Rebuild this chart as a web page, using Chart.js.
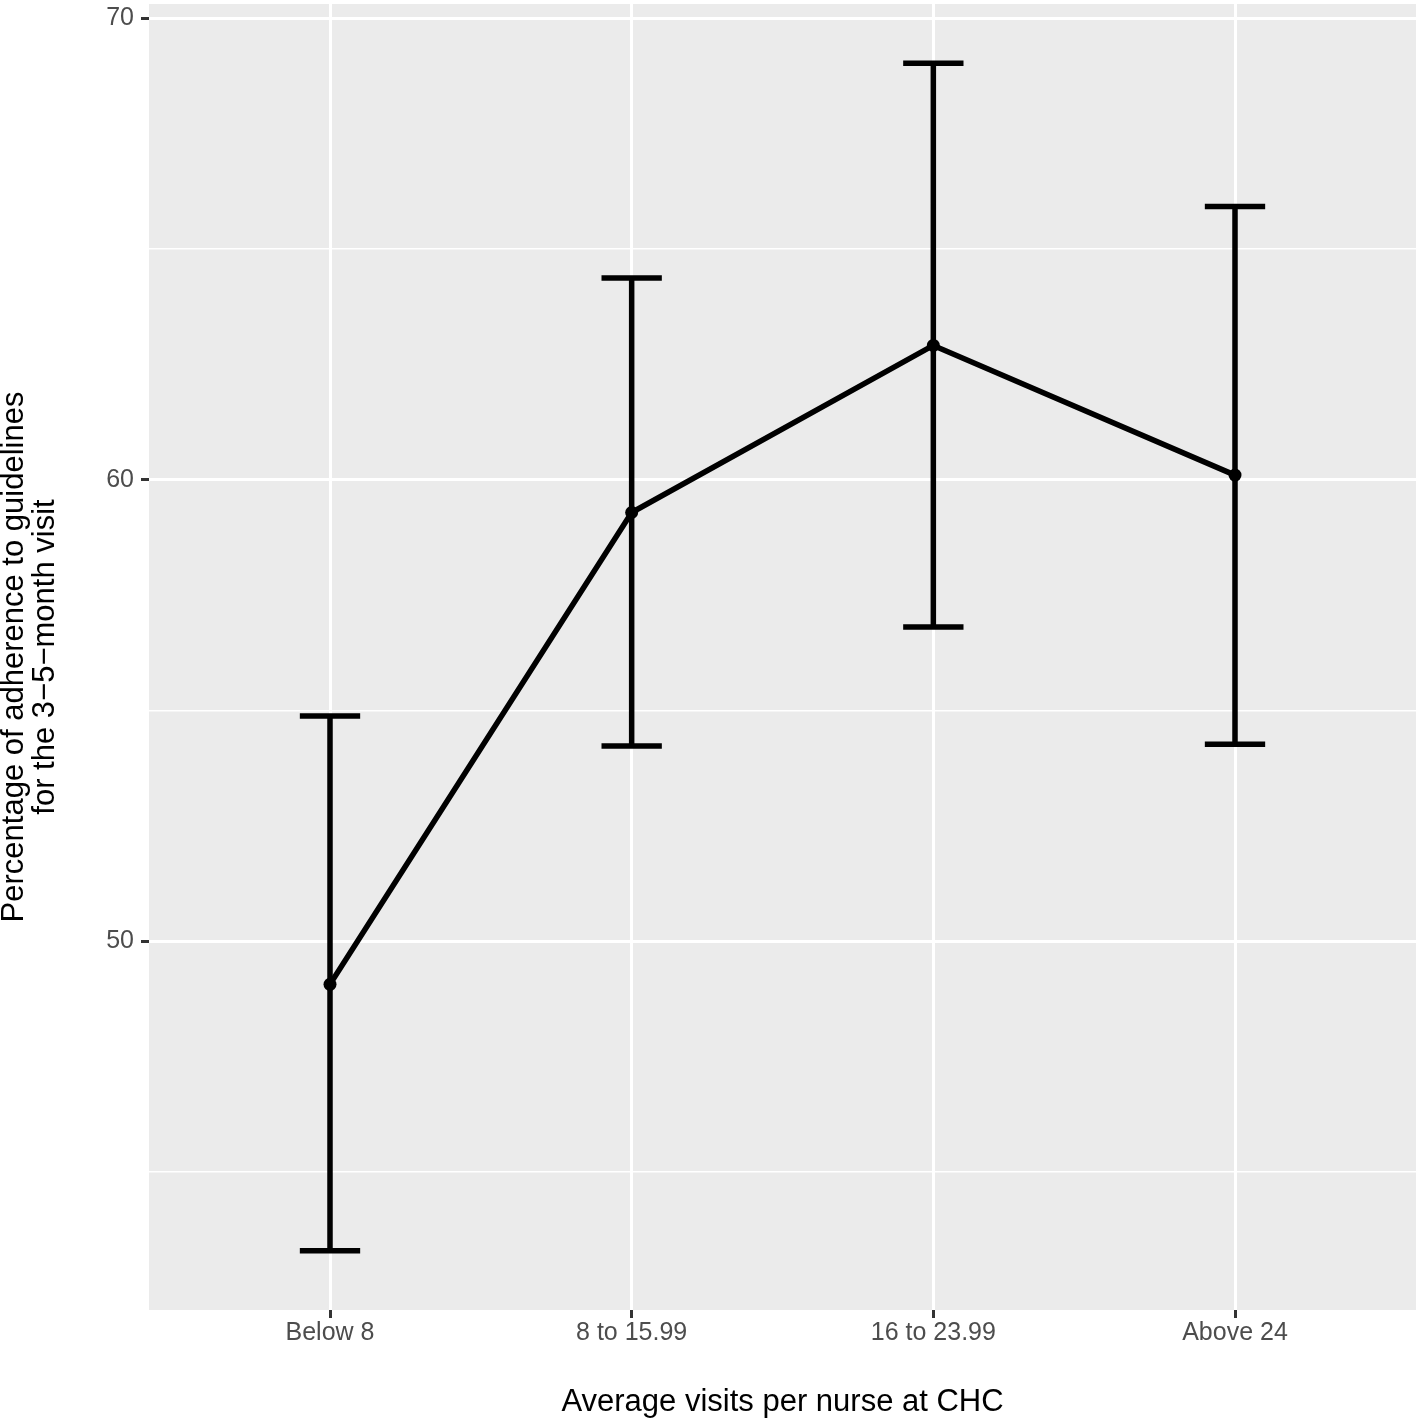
<!DOCTYPE html>
<html><head><meta charset="utf-8">
<script src="https://cdn.jsdelivr.net/npm/chart.js@4/dist/chart.umd.min.js"></script>
<style>html,body{margin:0;padding:0;background:#fff;} #wrap{width:1416px;height:1420px;position:relative;}</style>
</head><body><div id="wrap"><canvas id="c"></canvas></div>
<script>
const categories = ['Below 8', '8 to 15.99', '16 to 23.99', 'Above 24'];
const meanValues = [49.07, 59.29, 62.91, 60.10];
const lowerValues = [43.30, 54.23, 56.81, 54.27];
const upperValues = [54.88, 64.37, 69.02, 65.92];
const majorYTicks = [50, 60, 70];
const minorYTicks = [45, 55, 65];
const xTitle = 'Average visits per nurse at CHC';
const yTitle = ['Percentage of adherence to guidelines', 'for the 3\u22125\u2212month visit'];

const FAMILY = '"Liberation Sans", Arial, Helvetica, sans-serif';
const capHalf = 0.1;

const lo = Math.min(...lowerValues), hi = Math.max(...upperValues);
const expand = 0.05 * (hi - lo);

const meanData = categories.map((c, i) => ({x: i + 1, y: meanValues[i]}));
const errData = [];
categories.forEach((c, i) => {
  const x = i + 1;
  errData.push({x, y: lowerValues[i]}, {x, y: upperValues[i]}, {x, y: null});
  errData.push({x: x - capHalf, y: upperValues[i]}, {x: x + capHalf, y: upperValues[i]}, {x, y: null});
  errData.push({x: x - capHalf, y: lowerValues[i]}, {x: x + capHalf, y: lowerValues[i]}, {x, y: null});
});

const panelBg = {
  id: 'panelBg',
  beforeDraw(chart) {
    const {ctx, chartArea: a} = chart;
    ctx.save();
    ctx.fillStyle = '#EBEBEB';
    ctx.fillRect(a.left, a.top, a.right - a.left, a.bottom - a.top);
    ctx.restore();
  }
};

new Chart(document.getElementById('c'), {
  type: 'line',
  data: {
    datasets: [
      {
        data: errData, borderColor: '#000', borderWidth: 5.5, pointRadius: 0,
        spanGaps: false, borderCapStyle: 'butt', tension: 0, fill: false
      },
      {
        data: meanData, borderColor: '#000', borderWidth: 5.5, pointRadius: 6.5,
        pointBackgroundColor: '#000', pointBorderWidth: 0, borderJoinStyle: 'round',
        borderCapStyle: 'butt', tension: 0, fill: false
      }
    ]
  },
  plugins: [panelBg],
  options: {
    responsive: true, maintainAspectRatio: false, animation: false, devicePixelRatio: 1,
    events: [],
    layout: {autoPadding: false, padding: {top: 4, right: 0, bottom: 0, left: 0}},
    plugins: {legend: {display: false}, tooltip: {enabled: false}},
    scales: {
      x: {
        type: 'linear', min: 0.4, max: 4.6,
        afterBuildTicks: s => { s.ticks = categories.map((c, i) => ({value: i + 1})); },
        afterFit: s => { s.height = 110; s.paddingLeft = 0; s.paddingRight = 0; s.paddingTop = 0; s.paddingBottom = 0; },
        ticks: {
          callback: (v, i) => categories[i], color: '#4D4D4D',
          font: {family: FAMILY, size: 25}, padding: 0, maxRotation: 0, autoSkip: false
        },
        grid: {color: '#FFFFFF', lineWidth: 3, tickColor: '#333333', tickWidth: 3, tickLength: 8},
        border: {display: false},
        title: {
          display: true, text: xTitle, color: '#000',
          font: {family: FAMILY, size: 31, lineHeight: 1.1}, padding: {top: 0, bottom: 0}
        }
      },
      y: {
        type: 'linear', min: lo - expand, max: hi + expand,
        afterBuildTicks: s => {
          s.ticks = [...minorYTicks, ...majorYTicks].sort((a, b) => a - b).map(v => ({value: v}));
        },
        afterFit: s => { s.width = 149; s.paddingLeft = 0; s.paddingRight = 0; s.paddingTop = 0; s.paddingBottom = 0; },
        ticks: {
          callback: v => majorYTicks.includes(v) ? String(v) : '', color: '#4D4D4D',
          font: {family: FAMILY, size: 25}, padding: 7, autoSkip: false
        },
        grid: {
          color: '#FFFFFF',
          lineWidth: c => (c.tick && majorYTicks.includes(c.tick.value)) ? 3 : 1.5,
          tickColor: c => (c.tick && majorYTicks.includes(c.tick.value)) ? '#333333' : 'rgba(0,0,0,0)',
          tickWidth: 3, tickLength: 8
        },
        border: {display: false},
        title: {
          display: true, text: yTitle, color: '#000',
          font: {family: FAMILY, size: 31, lineHeight: 1.03}, padding: {top: -2, bottom: 0}
        }
      }
    }
  }
});
</script>
</body></html>
